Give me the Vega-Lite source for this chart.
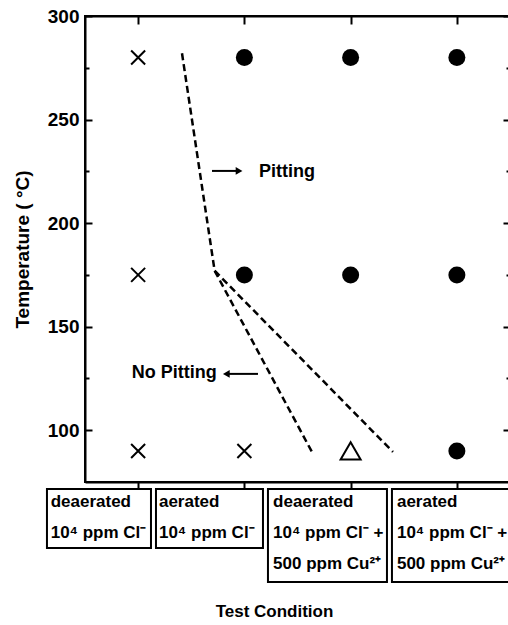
{
  "$schema": "https://vega.github.io/schema/vega-lite/v6.json",
  "width": 425,
  "height": 466,
  "autosize": {"type": "none"},
  "padding": {"left": 85, "top": 16, "right": 0, "bottom": 143},
  "background": "white",
  "config": {
    "view": {"stroke": "black", "strokeWidth": 2},
    "font": "Liberation Sans",
    "axis": {
      "domainColor": "black", "domainWidth": 2, "tickColor": "black", "tickWidth": 2,
      "labelColor": "black", "titleColor": "black", "grid": false,
      "labelFont": "Liberation Sans", "titleFont": "Liberation Sans"
    }
  },
  "datasets": {
    "points": [
      {"cond": 1, "temp": 280, "result": "none"},
      {"cond": 1, "temp": 175, "result": "none"},
      {"cond": 1, "temp": 90, "result": "none"},
      {"cond": 2, "temp": 90, "result": "none"},
      {"cond": 2, "temp": 280, "result": "pit"},
      {"cond": 3, "temp": 280, "result": "pit"},
      {"cond": 4, "temp": 280, "result": "pit"},
      {"cond": 2, "temp": 175, "result": "pit"},
      {"cond": 3, "temp": 175, "result": "pit"},
      {"cond": 4, "temp": 175, "result": "pit"},
      {"cond": 4, "temp": 90, "result": "pit"},
      {"cond": 3, "temp": 90, "result": "partial"}
    ],
    "lines": [
      {"seg": "a", "ord": 1, "x": 1.413, "y": 282},
      {"seg": "a", "ord": 2, "x": 1.72, "y": 177},
      {"seg": "a", "ord": 3, "x": 2.636, "y": 89.5},
      {"seg": "b", "ord": 1, "x": 1.72, "y": 177},
      {"seg": "b", "ord": 2, "x": 3.399, "y": 89.5}
    ],
    "boxes": [
      {"x1": 0.142, "x2": 1.121, "y1": 71.6, "y2": 43.1, "tx": 0.177, "label": "deaerated\n10⁴ ppm Cl⁻"},
      {"x1": 1.168, "x2": 2.175, "y1": 71.6, "y2": 43.1, "tx": 1.196, "label": "aerated\n10⁴ ppm Cl⁻"},
      {"x1": 2.222, "x2": 3.342, "y1": 71.6, "y2": 26.7, "tx": 2.27, "label": "deaerated\n10⁴ ppm Cl⁻ +\n500 ppm Cu²⁺"},
      {"x1": 3.389, "x2": 4.62, "y1": 71.6, "y2": 26.7, "tx": 3.436, "label": "aerated\n10⁴ ppm Cl⁻ +\n500 ppm Cu²⁺"}
    ],
    "notes": [
      {"x": 2.138, "y": 224.7, "label": "Pitting"},
      {"x": 0.94, "y": 127.6, "label": "No Pitting"}
    ],
    "arrows": [
      {"x1": 1.695, "x2": 1.95, "y": 225.2, "head": 1.95, "dir": "right"},
      {"x1": 1.84, "x2": 2.128, "y": 127.2, "head": 1.83, "dir": "left"}
    ]
  },
  "resolve": {"axis": {"x": "independent", "y": "independent"}},
  "layer": [
    {
      "data": {"name": "points"},
      "transform": [{"filter": "datum.result === 'none'"}],
      "mark": {"type": "point", "shape": "M-1,-1L1,1M-1,1L1,-1", "filled": false, "stroke": "black", "strokeWidth": 2, "size": 196, "opacity": 1},
      "encoding": {
        "x": {"field": "cond", "type": "quantitative", "scale": {"domain": [0.5, 4.5], "nice": false, "zero": false},
          "axis": {"orient": "bottom", "values": [1, 2, 3, 4], "labels": false, "tickSize": 7, "title": "Test Condition",
            "titleFontSize": 17, "titleFontWeight": "bold", "titleX": 189, "titleY": 129, "titleAlign": "center", "titleBaseline": "middle"}},
        "y": {"field": "temp", "type": "quantitative", "scale": {"domain": [75, 300], "nice": false, "zero": false},
          "axis": {"orient": "left", "values": [100, 125, 150, 175, 200, 225, 250, 275, 300],
            "labelExpr": "datum.value % 50 === 0 ? datum.label : ''",
            "tickSize": {"condition": {"test": "datum.value % 50 === 0", "value": -7}, "value": -4},
            "labelPadding": 13, "labelFontSize": 19, "labelFontWeight": "bold",
            "title": "Temperature ( °C)", "titleFontSize": 19, "titleFontWeight": "bold", "titlePadding": 15}}
      }
    },
    {
      "data": {"name": "points"},
      "transform": [{"filter": "datum.result === 'pit'"}],
      "mark": {"type": "point", "shape": "circle", "filled": true, "color": "black", "size": 289, "opacity": 1},
      "encoding": {
        "x": {"field": "cond", "type": "quantitative",
          "axis": {"orient": "top", "values": [1, 2, 3, 4], "labels": false, "tickSize": -8, "title": null}},
        "y": {"field": "temp", "type": "quantitative",
          "axis": {"orient": "right", "values": [100, 125, 150, 175, 200, 225, 250, 275, 300], "labels": false,
            "tickSize": {"condition": {"test": "datum.value % 50 === 0", "value": -7}, "value": -4}, "title": null}}
      }
    },
    {
      "data": {"name": "points"},
      "transform": [{"filter": "datum.result === 'partial'"}],
      "mark": {"type": "point", "shape": "triangle-up", "filled": false, "stroke": "black", "strokeWidth": 2, "size": 400, "opacity": 1},
      "encoding": {
        "x": {"field": "cond", "type": "quantitative", "axis": null},
        "y": {"field": "temp", "type": "quantitative", "axis": null}
      }
    },
    {
      "data": {"name": "lines"},
      "mark": {"type": "line", "stroke": "black", "strokeWidth": 2.5, "strokeDash": [7, 4]},
      "encoding": {
        "x": {"field": "x", "type": "quantitative", "axis": null},
        "y": {"field": "y", "type": "quantitative", "axis": null},
        "detail": {"field": "seg"},
        "order": {"field": "ord"}
      }
    },
    {
      "data": {"name": "boxes"},
      "mark": {"type": "rect", "fillOpacity": 0, "stroke": "black", "strokeWidth": 2},
      "encoding": {
        "x": {"field": "x1", "type": "quantitative", "axis": null},
        "x2": {"field": "x2"},
        "y": {"field": "y1", "type": "quantitative", "axis": null},
        "y2": {"field": "y2"}
      }
    },
    {
      "data": {"name": "boxes"},
      "mark": {"type": "text", "align": "left", "baseline": "alphabetic", "fontSize": 17, "fontWeight": "bold", "lineBreak": "\n", "lineHeight": 31, "color": "black", "font": "Liberation Sans"},
      "encoding": {
        "x": {"field": "tx", "type": "quantitative", "axis": null},
        "y": {"datum": 63, "type": "quantitative", "axis": null},
        "text": {"field": "label"}
      }
    },
    {
      "data": {"name": "notes"},
      "mark": {"type": "text", "align": "left", "baseline": "middle", "fontSize": 18, "fontWeight": "bold", "color": "black", "font": "Liberation Sans"},
      "encoding": {
        "x": {"field": "x", "type": "quantitative", "axis": null},
        "y": {"field": "y", "type": "quantitative", "axis": null},
        "text": {"field": "label"}
      }
    },
    {
      "data": {"name": "arrows"},
      "mark": {"type": "rule", "stroke": "black", "strokeWidth": 2},
      "encoding": {
        "x": {"field": "x1", "type": "quantitative", "axis": null},
        "x2": {"field": "x2"},
        "y": {"field": "y", "type": "quantitative", "axis": null}
      }
    },
    {
      "data": {"name": "arrows"},
      "mark": {"type": "point", "filled": true, "color": "black", "size": 60, "opacity": 1},
      "encoding": {
        "x": {"field": "head", "type": "quantitative", "axis": null},
        "y": {"field": "y", "type": "quantitative", "axis": null},
        "shape": {"field": "dir", "type": "nominal", "scale": {"domain": ["right", "left"], "range": ["triangle-right", "triangle-left"]}, "legend": null}
      }
    }
  ]
}
